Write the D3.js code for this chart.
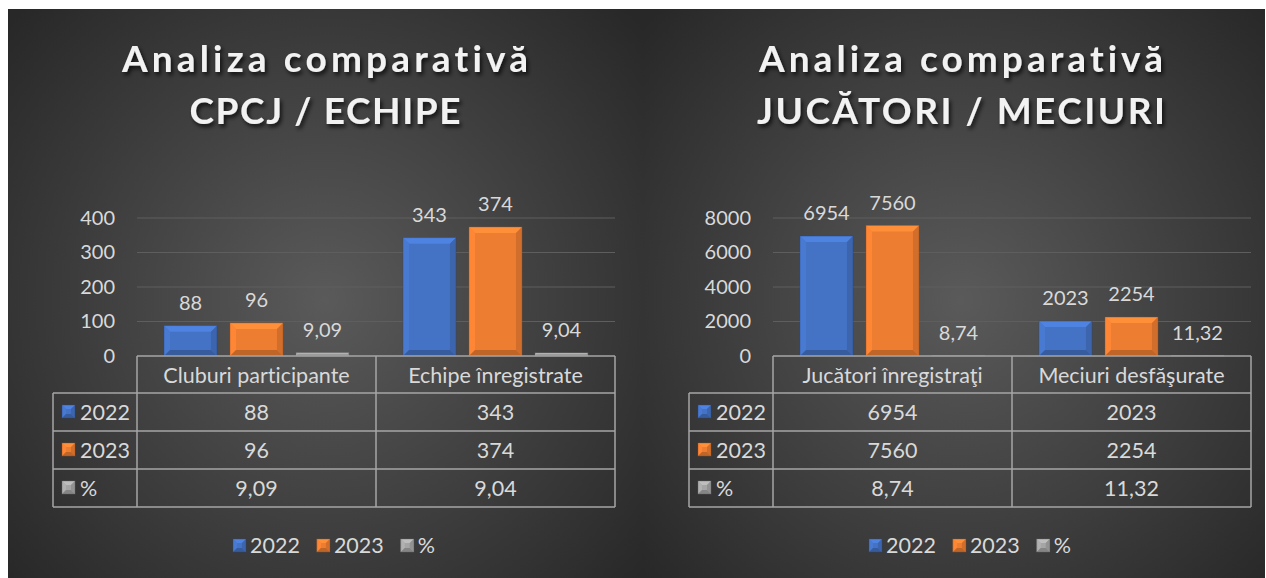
<!DOCTYPE html>
<html>
<head>
<meta charset="utf-8">
<script src="https://cdn.jsdelivr.net/npm/d3@7"></script>
<style>
  html, body { margin: 0; padding: 0; background: #fff; }
  svg { display: block; font-family: Lato, "Open Sans", sans-serif; font-variant-ligatures: none; }
</style>
</head>
<body>
<svg width="1266" height="578"></svg>
<script>
// ---- data ----
var seriesNames = ["2022", "2023", "%"];
var seriesColors = ["#4472c4", "#ed7d31", "#a5a5a5"];

var titleA = ["Analiza comparativă", "CPCJ / ECHIPE"];
var categoriesA = ["Cluburi participante", "Echipe înregistrate"];
var valuesA2022 = [88, 343];
var valuesA2023 = [96, 374];
var valuesAPct = [9.09, 9.04];
var ticksA = [0, 100, 200, 300, 400];

var titleB = ["Analiza comparativă", "JUCĂTORI / MECIURI"];
var categoriesB = ["Jucători înregistraţi", "Meciuri desfăşurate"];
var valuesB2022 = [6954, 2023];
var valuesB2023 = [7560, 2254];
var valuesBPct = [8.74, 11.32];
var ticksB = [0, 2000, 4000, 6000, 8000];

// ---- setup ----
var svg = d3.select("svg"),
  width = +svg.attr("width"),
  height = +svg.attr("height");

var ro = d3.formatLocale({decimal: ",", thousands: "", grouping: [3], currency: ["", ""]});
var fmtInt = ro.format("d"), fmtPct = ro.format(".2f");
function fmt(v) { return Number.isInteger(v) ? fmtInt(v) : fmtPct(v); }

var defs = svg.append("defs");
var shadow = defs.append("filter").attr("id", "tshadow")
  .attr("x", "-10%").attr("y", "-20%").attr("width", "130%").attr("height", "160%");
shadow.append("feDropShadow")
  .attr("dx", 2).attr("dy", 3).attr("stdDeviation", 2)
  .attr("flood-color", "#000").attr("flood-opacity", 0.75);

defs.append("clipPath").attr("id", "pageclip")
  .append("rect").attr("x", 8).attr("y", 9).attr("width", 1257).attr("height", 569);

var textCol = "#d9d9d9", lineCol = "#a6a6a6", gridCol = "#5e5e5e";
var numSize = 20, txtSize = 21.5;

function bevel(g, x, y, w, h, color, b) {
  if (h <= 0 || w <= 0) return;
  b = Math.min(b, h / 2, w / 2);
  var c = d3.color(color);
  var light = c.brighter(0.4), lighter = c.brighter(0.2),
      dark = c.darker(0.35), darker = c.darker(0.6);
  var pts = function(a) { return a.map(function(p) { return p.join(","); }).join(" "); };
  g.append("rect").attr("x", x).attr("y", y).attr("width", w).attr("height", h).attr("fill", color);
  g.append("polygon").attr("fill", light)
    .attr("points", pts([[x, y], [x + w, y], [x + w - b, y + b], [x + b, y + b]]));
  g.append("polygon").attr("fill", lighter)
    .attr("points", pts([[x, y], [x + b, y + b], [x + b, y + h - b], [x, y + h]]));
  g.append("polygon").attr("fill", dark)
    .attr("points", pts([[x + w, y], [x + w, y + h], [x + w - b, y + h - b], [x + w - b, y + b]]));
  g.append("polygon").attr("fill", darker)
    .attr("points", pts([[x, y + h], [x + b, y + h - b], [x + w - b, y + h - b], [x + w, y + h]]));
  g.append("rect").attr("x", x).attr("y", y).attr("width", w).attr("height", h)
    .attr("fill", "none").attr("stroke", c.darker(1.2)).attr("stroke-opacity", 0.5).attr("stroke-width", 0.8);
}

function marker(g, x, y, color) {
  bevel(g, x, y, 13, 13, color, 4);
}

function drawPanel(x0, pw, title, titleW, cats, series, ticks) {
  var gradId = "bg" + x0;
  var grad = defs.append("radialGradient").attr("id", gradId)
    .attr("gradientUnits", "userSpaceOnUse")
    .attr("cx", x0 + 317).attr("cy", 300).attr("r", 420);
  grad.append("stop").attr("offset", "0%").attr("stop-color", "#5a5a5a");
  grad.append("stop").attr("offset", "100%").attr("stop-color", "#282828");

  var p = svg.append("g").attr("clip-path", "url(#pageclip)");
  p.append("rect").attr("x", x0).attr("y", 9).attr("width", pw).attr("height", height - 9)
    .attr("fill", "url(#" + gradId + ")");

  // title
  var tx = x0 + 317;
  var tt = p.append("g").attr("filter", "url(#tshadow)");
  [72, 124].forEach(function(ty, i) {
    tt.append("text").attr("x", tx).attr("y", ty).attr("text-anchor", "middle")
      .attr("font-size", 37).attr("font-weight", "bold").attr("fill", "#f2f2f2")
      .attr("textLength", titleW[i]).attr("lengthAdjust", "spacing")
      .text(title[i]);
  });

  var left = x0 + 129, right = x0 + 607, tableLeft = x0 + 45;
  var y = d3.scaleLinear().domain([0, ticks[ticks.length - 1]]).range([356, 218]);
  var x = d3.scaleBand().domain(cats).range([left, right]);
  var xs = d3.scaleBand().domain(seriesNames).range([27, x.bandwidth() - 27]).paddingInner(0.197);

  // grid
  p.append("g").selectAll("line").data(ticks.slice(1)).enter().append("line")
    .attr("x1", left).attr("x2", right)
    .attr("y1", function(d) { return y(d); }).attr("y2", function(d) { return y(d); })
    .attr("stroke", gridCol).attr("stroke-width", 1);

  // y axis labels
  var ax = p.append("g").attr("transform", "translate(" + (left - 22) + ",0)")
    .call(d3.axisLeft(y).tickValues(ticks).tickSize(0).tickPadding(0).tickFormat(fmtInt));
  ax.select(".domain").remove();
  ax.selectAll("text").attr("fill", textCol).attr("font-size", numSize).attr("font-family", "Lato");

  // bars
  series.forEach(function(s, si) {
    cats.forEach(function(c, ci) {
      var v = s[ci];
      var bx = x(c) + xs(seriesNames[si]), bw = xs.bandwidth();
      var top = y(v);
      bevel(p, bx, top, bw, y(0) - top, seriesColors[si], 6);
      p.append("text").attr("x", bx + bw / 2).attr("y", top - 16)
        .attr("text-anchor", "middle").attr("font-size", numSize).attr("fill", textCol)
        .text(fmt(v));
    });
  });

  // data table
  var rowH = 38, headB = 393;
  var t = p.append("g").attr("stroke", lineCol).attr("stroke-width", 1.5).attr("fill", "none");
  t.append("line").attr("x1", left).attr("x2", right).attr("y1", 356).attr("y2", 356);
  [left].concat(cats.map(function(c) { return x(c) + x.bandwidth(); })).forEach(function(xx) {
    t.append("line").attr("x1", xx).attr("x2", xx).attr("y1", 356).attr("y2", headB + rowH * 3);
  });
  t.append("line").attr("x1", tableLeft).attr("x2", tableLeft).attr("y1", headB).attr("y2", headB + rowH * 3);
  d3.range(4).forEach(function(i) {
    t.append("line").attr("x1", tableLeft).attr("x2", right)
      .attr("y1", headB + rowH * i).attr("y2", headB + rowH * i);
  });

  cats.forEach(function(c) {
    p.append("text").attr("x", x(c) + x.bandwidth() / 2).attr("y", 375)
      .attr("dy", "0.35em").attr("text-anchor", "middle").attr("font-size", txtSize)
      .attr("fill", textCol).text(c);
  });
  series.forEach(function(s, si) {
    var cy = headB + rowH * si + rowH / 2;
    marker(p, tableLeft + 9, cy - 7, seriesColors[si]);
    p.append("text").attr("x", tableLeft + 27).attr("y", cy).attr("dy", "0.35em")
      .attr("font-size", txtSize).attr("fill", textCol).text(seriesNames[si]);
    cats.forEach(function(c, ci) {
      p.append("text").attr("x", x(c) + x.bandwidth() / 2).attr("y", cy).attr("dy", "0.35em")
        .attr("text-anchor", "middle").attr("font-size", txtSize).attr("fill", textCol)
        .text(fmt(s[ci]));
    });
  });

  // legend
  var lg = p.append("g");
  var lx = 0;
  seriesNames.forEach(function(n, i) {
    marker(lg, lx, 539, seriesColors[i]);
    var tx2 = lg.append("text").attr("x", lx + 17).attr("y", 545).attr("dy", "0.35em")
      .attr("font-size", txtSize).attr("fill", textCol).text(n);
    lx += 17 + tx2.node().getComputedTextLength() + 17;
  });
  lx -= 17;
  lg.attr("transform", "translate(" + ((tableLeft + right) / 2 - lx / 2) + ",0)");
}

drawPanel(8, 636, titleA, [406, 271], categoriesA, [valuesA2022, valuesA2023, valuesAPct], ticksA);
drawPanel(644, 622, titleB, [404, 408], categoriesB, [valuesB2022, valuesB2023, valuesBPct], ticksB);
</script>
</body>
</html>
